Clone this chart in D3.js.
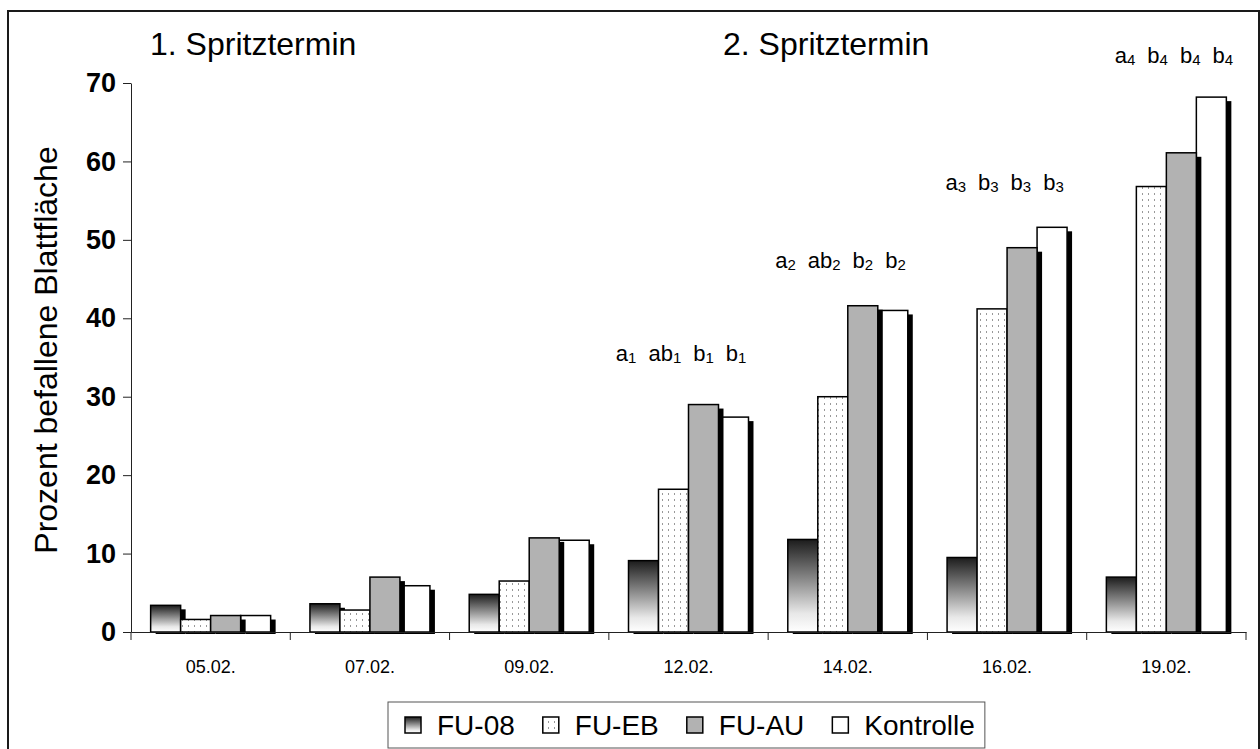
<!DOCTYPE html>
<html>
<head>
<meta charset="utf-8">
<script src="https://cdnjs.cloudflare.com/ajax/libs/d3/7.8.5/d3.min.js"></script>
<style>
  html, body { margin: 0; padding: 0; background: #fff; }
  svg { display: block; font-family: "Liberation Sans", Arial, sans-serif; }
</style>
</head>
<body>
<svg id="chart" width="1260" height="749"></svg>
<script>
// data
const dates = ['05.02.', '07.02.', '09.02.', '12.02.', '14.02.', '16.02.', '19.02.'];
const seriesNames = ['FU-08', 'FU-EB', 'FU-AU', 'Kontrolle'];
const fu08 = [3.4, 3.6, 4.8, 9.1, 11.8, 9.5, 7.0];
const fuEB = [1.6, 2.8, 6.5, 18.2, 30.0, 41.2, 56.8];
const fuAU = [2.1, 7.0, 12.0, 29.0, 41.6, 49.0, 61.1];
const kontrolle = [2.1, 5.9, 11.7, 27.4, 41.0, 51.6, 68.2];
const yTicks = [0, 10, 20, 30, 40, 50, 60, 70];
const periods = ['1. Spritztermin', '2. Spritztermin'];

// significance letters above the later dates
const sigDates = ['12.02.', '14.02.', '16.02.', '19.02.'];
const sigLetters = [
  ['a', 'ab', 'b', 'b'],
  ['a', 'ab', 'b', 'b'],
  ['a', 'b', 'b', 'b'],
  ['a', 'b', 'b', 'b']
];
const sigIndex = ['1', '2', '3', '4'];
const sigLevel = [34.6, 46.4, 56.4, 72.6];

const values = [fu08, fuEB, fuAU, kontrolle];

// layout
const plot = { left: 131, right: 1246, top: 83, bottom: 632 };
const sigOffsetX = [7, 7, 18, 28];
const fills = ['url(#gradFU08)', 'url(#dotsEB)', '#b2b2b2', '#ffffff'];
const drawOrder = [0, 1, 3, 2];

const svg = d3.select('#chart');
const defs = svg.append('defs');

const grad = defs.append('linearGradient')
  .attr('id', 'gradFU08')
  .attr('x1', 0).attr('y1', 0).attr('x2', 0).attr('y2', 1);
[[0, '#1c1c1c'], [0.45, '#8e8e8e'], [0.8, '#e8e8e8'], [1, '#ffffff']].forEach(s => {
  grad.append('stop').attr('offset', s[0]).attr('stop-color', s[1]);
});

const pat = defs.append('pattern')
  .attr('id', 'dotsEB')
  .attr('patternUnits', 'userSpaceOnUse')
  .attr('width', 6).attr('height', 6);
pat.append('rect').attr('width', 6).attr('height', 6).attr('fill', '#fff');
pat.append('rect').attr('x', 2).attr('y', 1).attr('width', 1).attr('height', 2).attr('fill', '#999');

defs.append('clipPath').attr('id', 'shadowClip')
  .append('rect').attr('x', 0).attr('y', 0).attr('width', 1260).attr('height', plot.bottom + 2);

// outer frame
svg.append('rect')
  .attr('x', 8).attr('y', 11)
  .attr('width', 1251).attr('height', 760)
  .attr('fill', 'none')
  .attr('stroke', '#1a1a1a')
  .attr('stroke-width', 2);

const x0 = d3.scaleBand()
  .domain(dates)
  .range([plot.left, plot.right])
  .padding(0);

const x1 = d3.scaleBand()
  .domain(seriesNames)
  .range([0, x0.bandwidth()])
  .paddingInner(0)
  .paddingOuter(0.655);

const y = d3.scaleLinear()
  .domain([0, 70])
  .range([plot.bottom, plot.top]);

// y axis
const yAxis = svg.append('g')
  .attr('transform', `translate(${plot.left},0)`)
  .call(d3.axisLeft(y).tickValues(yTicks).tickSize(8).tickSizeOuter(0).tickPadding(7));
yAxis.select('.domain').attr('stroke', '#222');
yAxis.selectAll('.tick line').attr('stroke', '#222');
yAxis.selectAll('.tick text')
  .style('font-family', '"Liberation Sans", Arial, sans-serif')
  .style('font-size', '27px')
  .style('font-weight', 'bold')
  .attr('fill', '#000');

// bars
const barsG = svg.append('g');
drawOrder.forEach(si => {
  const g = barsG.append('g');
  const data = values[si].map((v, i) => ({ date: dates[i], v }));
  g.selectAll('.shadow')
    .data(data)
    .enter()
    .append('rect')
    .attr('class', 'shadow')
    .attr('clip-path', 'url(#shadowClip)')
    .attr('x', d => x0(d.date) + x1(seriesNames[si]) + 5)
    .attr('y', d => y(d.v) + 4)
    .attr('width', x1.bandwidth())
    .attr('height', d => y(0) - y(d.v))
    .attr('fill', '#000');
  g.selectAll('.bar')
    .data(data)
    .enter()
    .append('rect')
    .attr('class', 'bar')
    .attr('x', d => x0(d.date) + x1(seriesNames[si]))
    .attr('y', d => y(d.v))
    .attr('width', x1.bandwidth())
    .attr('height', d => y(0) - y(d.v))
    .attr('fill', fills[si])
    .attr('stroke', '#000')
    .attr('stroke-width', 1.5);
});

// x axis
const xAxis = svg.append('g')
  .attr('transform', `translate(0,${plot.bottom})`)
  .call(d3.axisBottom(x0).tickSize(0).tickSizeOuter(0).tickPadding(28));
xAxis.select('.domain').attr('stroke', '#222');
xAxis.selectAll('.tick text')
  .style('font-family', '"Liberation Sans", Arial, sans-serif')
  .style('font-size', '18px')
  .attr('fill', '#000');
xAxis.selectAll('.boundary')
  .data(dates.map(d => x0(d)).concat([plot.right]))
  .enter()
  .append('line')
  .attr('class', 'boundary')
  .attr('x1', d => d).attr('x2', d => d)
  .attr('y1', 0).attr('y2', 8)
  .attr('stroke', '#222');

// significance letters
sigDates.forEach((d, i) => {
  const t = svg.append('text')
    .attr('x', x0(d) + sigOffsetX[i])
    .attr('y', y(sigLevel[i]))
    .style('font-size', '22px')
    .attr('fill', '#000');
  sigLetters[i].forEach((l, j) => {
    t.append('tspan')
      .attr('dx', j === 0 ? 0 : 12)
      .attr('dy', j === 0 ? 0 : -2)
      .text(l);
    t.append('tspan')
      .attr('dy', 2)
      .style('font-size', '15px')
      .text(sigIndex[i]);
  });
});

// period titles
svg.append('text')
  .attr('x', 150).attr('y', 55)
  .style('font-size', '32px')
  .text(periods[0]);
svg.append('text')
  .attr('x', 723).attr('y', 55)
  .style('font-size', '32px')
  .text(periods[1]);

// y title
svg.append('text')
  .attr('transform', 'translate(57,350) rotate(-90)')
  .attr('text-anchor', 'middle')
  .style('font-size', '32px')
  .text('Prozent befallene Blattfläche');

// legend
const legend = svg.append('g');
const legendBox = legend.append('rect')
  .attr('x', 388).attr('y', 702)
  .attr('height', 46)
  .attr('fill', '#fff')
  .attr('stroke', '#555')
  .attr('stroke-width', 1);
let lx = 405;
seriesNames.forEach((name, i) => {
  legend.append('rect')
    .attr('x', lx).attr('y', 717)
    .attr('width', 16).attr('height', 16)
    .attr('fill', fills[i])
    .attr('stroke', '#000')
    .attr('stroke-width', 1.5);
  const t = legend.append('text')
    .attr('x', lx + 32).attr('y', 735)
    .style('font-size', '28px')
    .text(name);
  lx += 32 + t.node().getComputedTextLength() + 28;
});
legendBox.attr('width', lx - 28 + 10 - 388);
</script>
</body>
</html>
